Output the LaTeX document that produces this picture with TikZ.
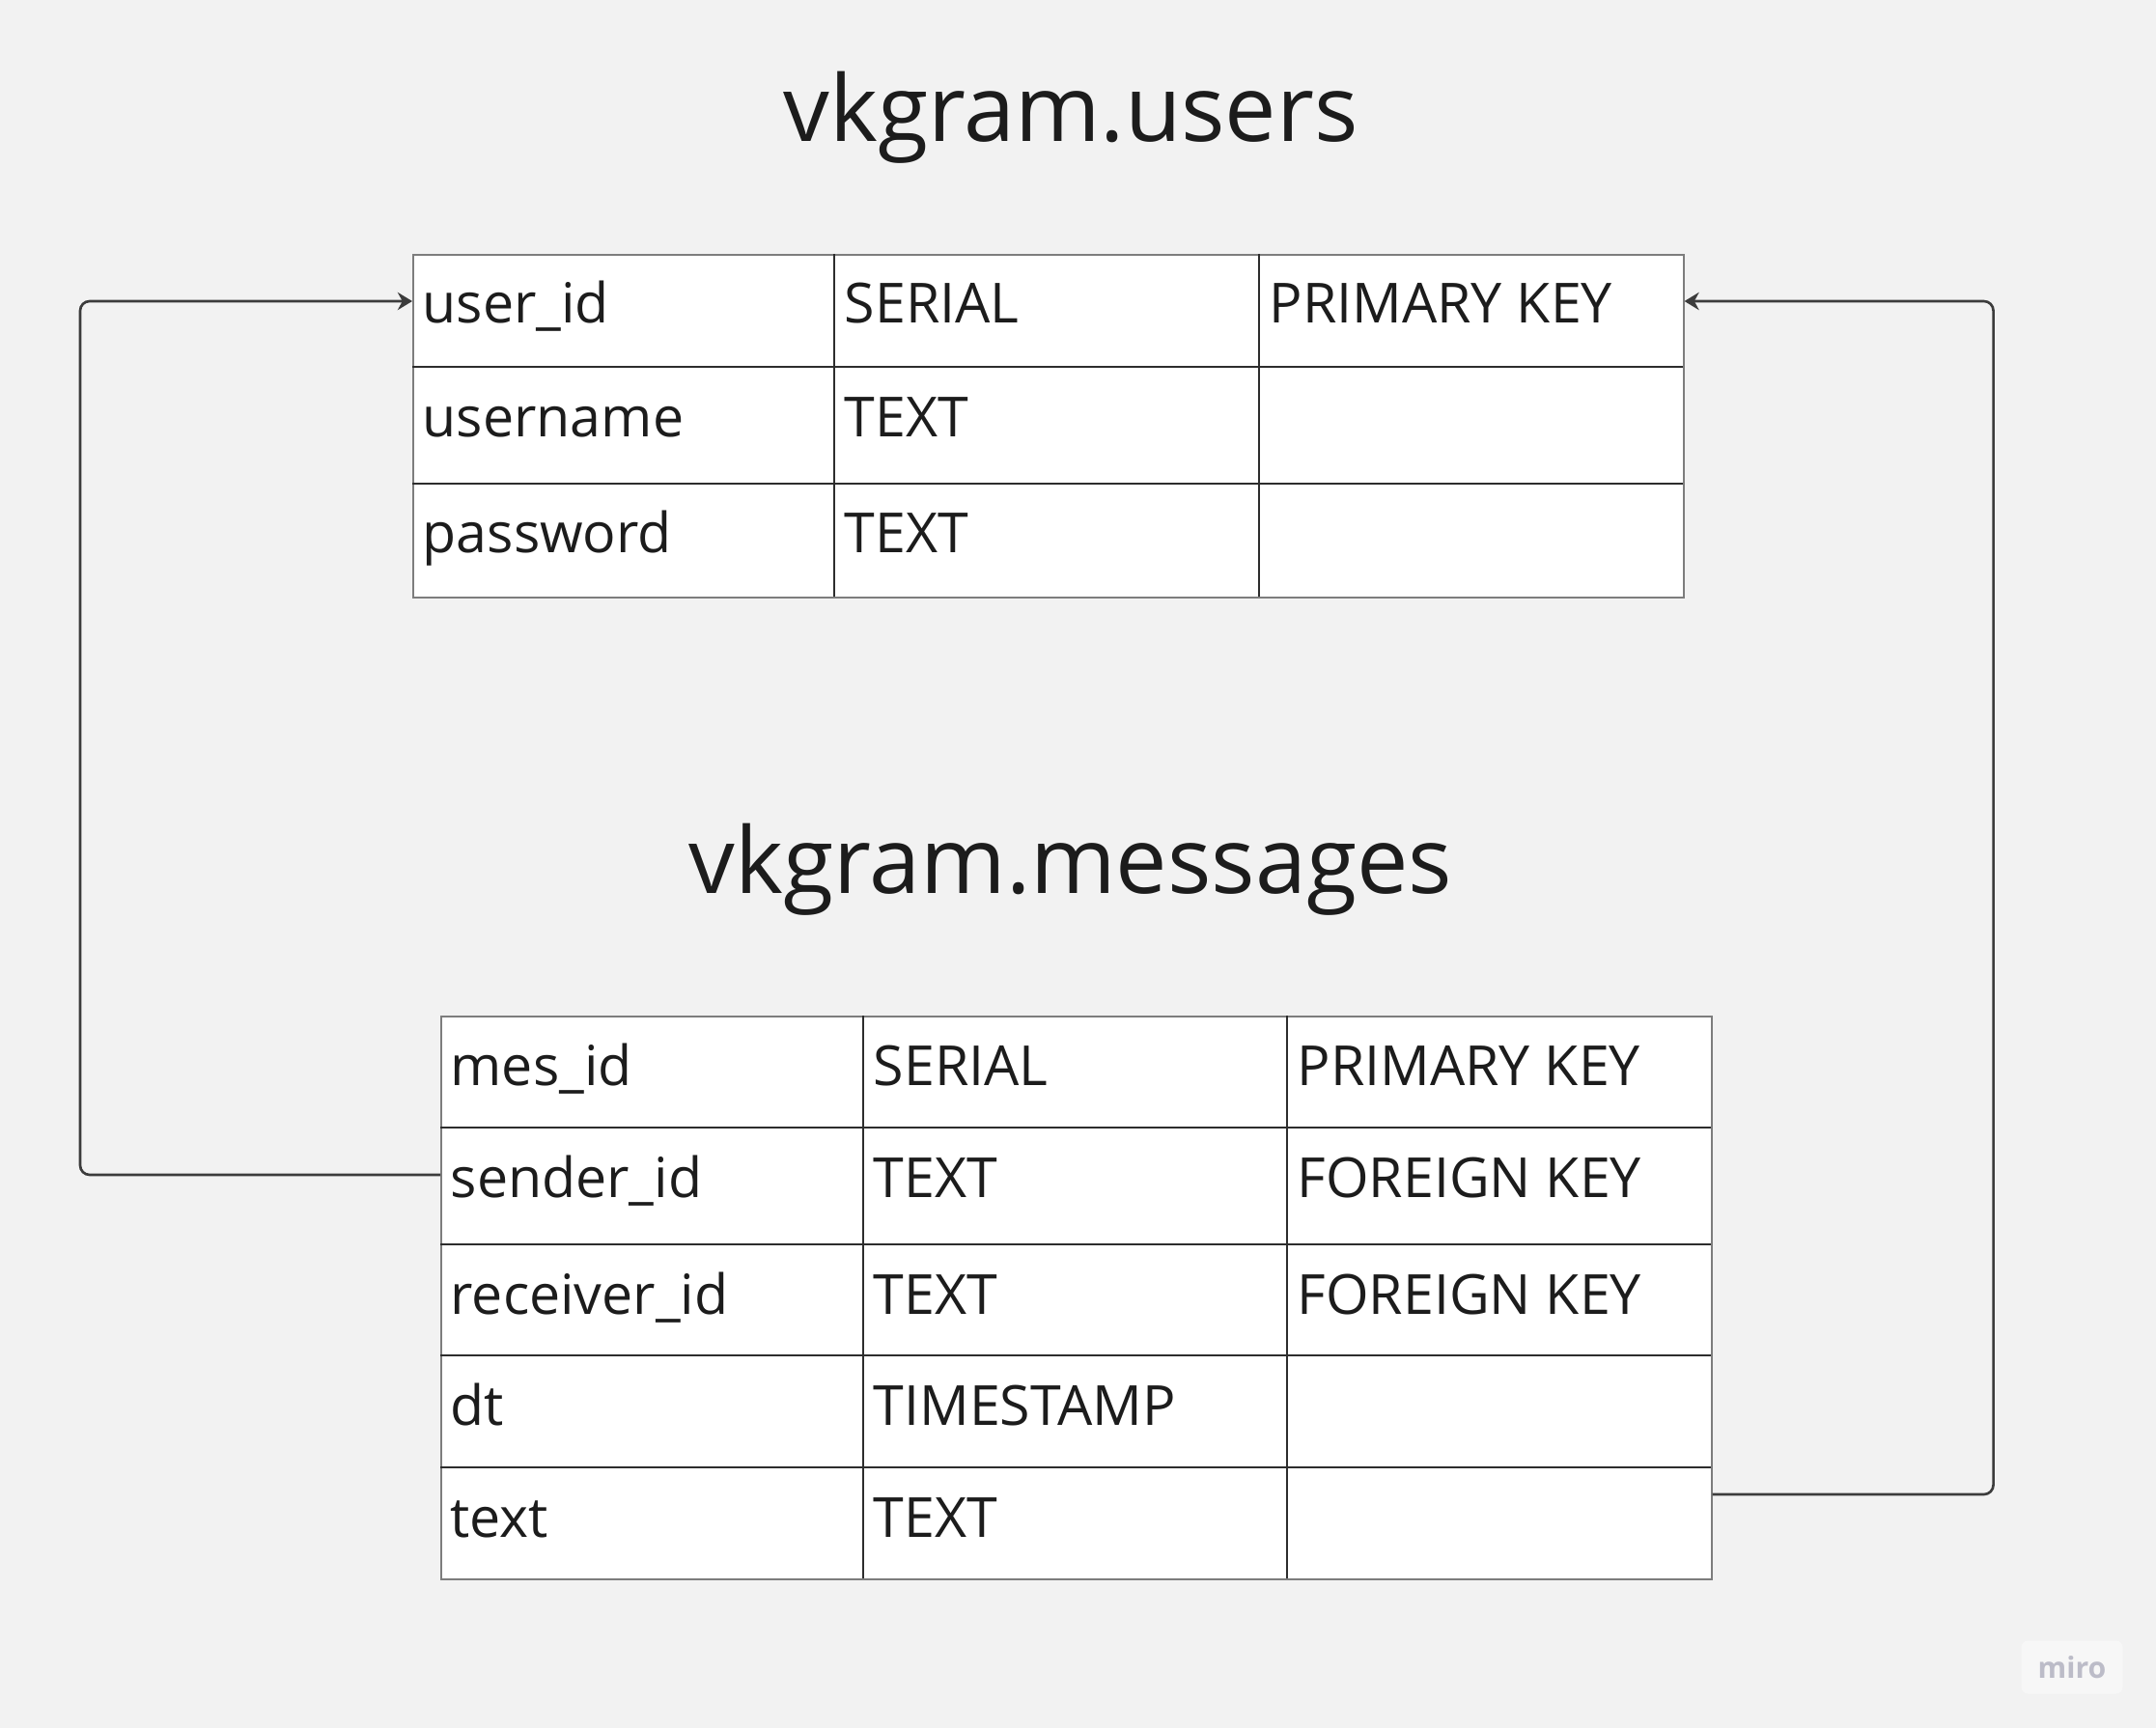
\documentclass[tikz,border=0pt]{standalone}
\usepackage{fontspec}
\setmainfont{Open Sans}
\definecolor{dbbg}{RGB}{242,242,242}
\definecolor{dbtext}{RGB}{28,28,28}
\definecolor{dbline}{RGB}{45,45,45}
\definecolor{dbframe}{RGB}{125,125,125}
\definecolor{dbarrow}{RGB}{60,60,60}
\definecolor{mirogray}{RGB}{188,188,200}
\usetikzlibrary{arrows.meta}

\begin{document}
\begin{tikzpicture}[
  title/.style={font=\fontsize{27.1}{32}\selectfont, text=dbtext, anchor=base, inner sep=0},
  cell/.style={font=\fontsize{16.3}{19}\selectfont, text=dbtext, anchor=base west, inner sep=0},
  tbl/.style={draw=dbframe, fill=white, line width=0.45pt, inner sep=0, anchor=north west},
  rowline/.style={dbline, line width=0.45pt},
  fk/.style={-{Stealth[length=4.3pt,width=5.2pt,inset=1.4pt]}, dbarrow, line width=0.75pt, rounded corners=2.8pt}
]
  % Canvas
  \fill[dbbg] (0,0) rectangle (22.33,-17.90);
  \useasboundingbox (0,0) rectangle (22.33,-17.90);

  % Titles
  \node[title] (usrtitle) at (11.09,-1.47) {vkgram.users};
  \node[title] (msgtitle) at (11.09,-9.25) {vkgram.messages};

  % Users table
  \node[tbl, minimum width=13.16cm, minimum height=3.55cm] (users) at (4.27,-2.63) {};
  \draw[rowline] (8.64,-2.63) -- (8.64,-6.18);
  \draw[rowline] (13.04,-2.63) -- (13.04,-6.18);
  \draw[rowline] (4.27,-3.80) -- (17.43,-3.80);
  \draw[rowline] (4.27,-5.01) -- (17.43,-5.01);

  % Users rows
  \node[cell] (uid) at (4.37,-3.35) {user\_id};
  \node[cell] (uidtype) at (8.74,-3.35) {SERIAL};
  \node[cell] (uidkey) at (13.14,-3.35) {PRIMARY KEY};
  \node[cell] (uname) at (4.37,-4.52) {username};
  \node[cell] (unametype) at (8.74,-4.52) {TEXT};
  \node[cell] (upass) at (4.37,-5.73) {password};
  \node[cell] (upasstype) at (8.74,-5.73) {TEXT};

  % Messages table
  \node[tbl, minimum width=13.16cm, minimum height=5.83cm] (messages) at (4.56,-10.52) {};
  \draw[rowline] (8.94,-10.52) -- (8.94,-16.35);
  \draw[rowline] (13.33,-10.52) -- (13.33,-16.35);
  \draw[rowline] (4.56,-11.68) -- (17.72,-11.68);
  \draw[rowline] (4.56,-12.89) -- (17.72,-12.89);
  \draw[rowline] (4.56,-14.04) -- (17.72,-14.04);
  \draw[rowline] (4.56,-15.20) -- (17.72,-15.20);

  % Messages rows
  \node[cell] (mid) at (4.66,-11.24) {mes\_id};
  \node[cell] (midtype) at (9.04,-11.24) {SERIAL};
  \node[cell] (midkey) at (13.43,-11.24) {PRIMARY KEY};
  \node[cell] (sndr) at (4.66,-12.40) {sender\_id};
  \node[cell] (sndrtype) at (9.04,-12.40) {TEXT};
  \node[cell] (sndrkey) at (13.43,-12.40) {FOREIGN KEY};
  \node[cell] (rcvr) at (4.66,-13.61) {receiver\_id};
  \node[cell] (rcvrtype) at (9.04,-13.61) {TEXT};
  \node[cell] (rcvrkey) at (13.43,-13.61) {FOREIGN KEY};
  \node[cell] (mdt) at (4.66,-14.76) {dt};
  \node[cell] (mdttype) at (9.04,-14.76) {TIMESTAMP};
  \node[cell] (mtext) at (4.66,-15.92) {text};
  \node[cell] (mtexttype) at (9.04,-15.92) {TEXT};

  % Foreign keys
  \draw[fk] ([yshift=-1.65cm]messages.north west) -- ++(-3.73,0) |- ([yshift=-0.49cm]users.north west);
  \draw[fk] ([yshift=-4.96cm]messages.north east) -- ++(2.91,0) |- ([yshift=-0.49cm]users.north east);

  % Watermark
  \node[fill=white!40!dbbg, rounded corners=2pt, minimum width=1.05cm, minimum height=0.55cm, inner sep=0,
        font=\bfseries\fontsize{8.6}{10}\selectfont, text=mirogray] (miro) at (21.46,-17.27) {miro};
\end{tikzpicture}
\end{document}
